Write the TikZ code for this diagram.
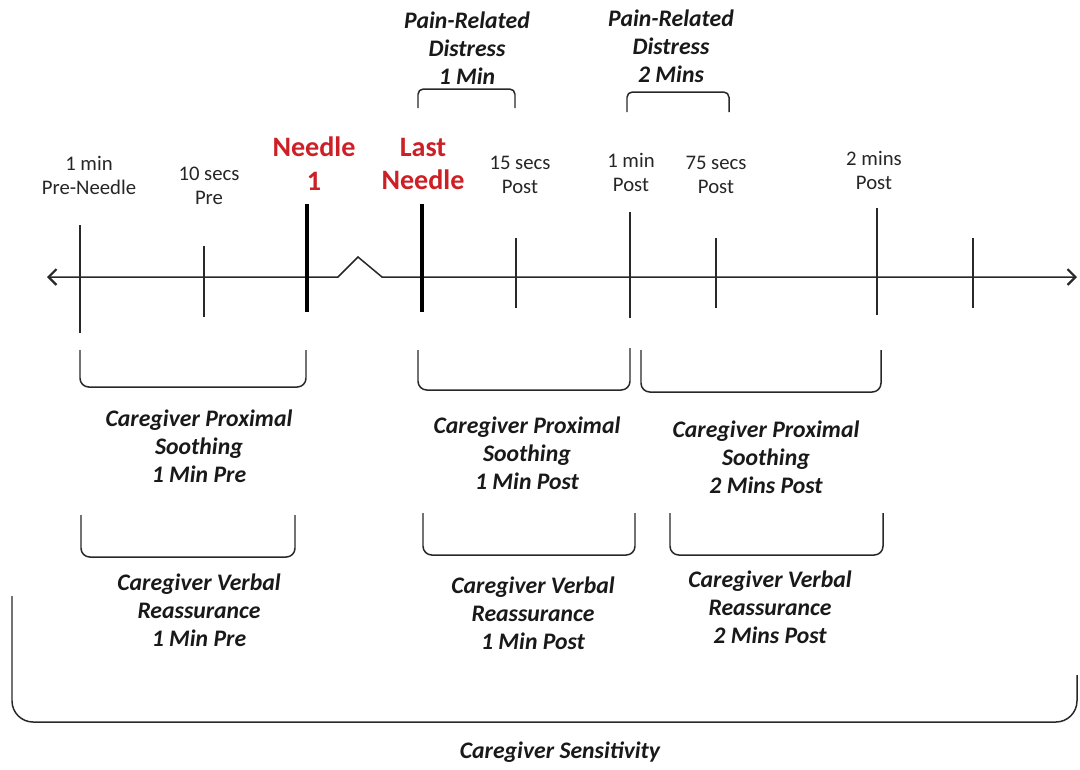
\documentclass[tikz,border=0pt]{standalone}
\usepackage{fontspec}
\setmainfont{Carlito}
\usetikzlibrary{arrows.meta}
\definecolor{needlered}{RGB}{205,32,38}
\definecolor{linegray}{RGB}{40,40,40}
\tikzset{
  timelbl/.style={align=center, text=black!85, font=\fontsize{11.8}{13.6}\selectfont},
  needlelbl/.style={align=center, text=needlered, font=\fontsize{16}{19.3}\selectfont\bfseries},
  measurelbl/.style={align=center, text=black!90, font=\fontsize{13.5}{15.9}\selectfont\bfseries\itshape},
  ticklin/.style={draw=linegray, line width=0.85pt},
  needletick/.style={draw=black, line width=1.8pt},
  bracket/.style={draw=linegray, line width=0.85pt, rounded corners=5pt},
  barb/.tip={Straight Barb[length=4.5pt,width=9pt,line width=1.3pt]},
}
\begin{document}
\begin{tikzpicture}[x=0.02cm, y=-0.02cm]
  \useasboundingbox (0,0) rectangle (1080,769);
  % time axis with break
  \draw[ticklin, barb-barb]
    (47,277) -- (338,277) -- (358,257) -- (382,277) -- (1077,277);
  \foreach \x/\ya/\yb in {80/225/333, 204/246/317, 516/238/308, 630/212/318,
                          716/238/308, 877/208/315, 973/238/308}
    \draw[ticklin] (\x,\ya) -- (\x,\yb);
  \draw[needletick] (307,204) -- (307,312);
  \draw[needletick] (422,204) -- (422,312);
  % time point labels
  \node[timelbl] (pre1) at (89,175) {1 min\\Pre-Needle};
  \node[timelbl] (pre10) at (209,186) {10 secs\\Pre};
  \node[needlelbl] (needle1) at (314,164) {Needle\\1};
  \node[needlelbl] (needlelast) at (423,164) {Last\\Needle};
  \node[timelbl] (post15) at (520,175) {15 secs\\Post};
  \node[timelbl] (post60) at (631,172) {1 min\\Post};
  \node[timelbl] (post75) at (716,175) {75 secs\\Post};
  \node[timelbl] (post120) at (874,170) {2 mins\\Post};
  % distress windows
  \draw[bracket, rounded corners=3pt] (418,108) -- (418,89) -- (515,89) -- (515,108);
  \draw[bracket, rounded corners=3pt] (627,112) -- (627,92) -- (729,92) -- (729,112);
  \node[measurelbl] (distress1) at (467,48) {Pain-Related\\Distress\\1 Min};
  \node[measurelbl] (distress2) at (671,46) {Pain-Related\\Distress\\2 Mins};
  % proximal soothing windows
  \draw[bracket] (80,350) -- (80,387) -- (306,387) -- (306,350);
  \draw[bracket] (418,350) -- (418,390) -- (630,390) -- (630,348);
  \draw[bracket] (641,350) -- (641,392) -- (881,392) -- (881,350);
  \node[measurelbl] (prox1) at (199,446) {Caregiver Proximal\\Soothing\\1 Min Pre};
  \node[measurelbl] (prox2) at (527,453) {Caregiver Proximal\\Soothing\\1 Min Post};
  \node[measurelbl] (prox3) at (766,457) {Caregiver Proximal\\Soothing\\2 Mins Post};
  % verbal reassurance windows
  \draw[bracket] (81,515) -- (81,557) -- (295,557) -- (295,515);
  \draw[bracket] (423,513) -- (423,555) -- (635,555) -- (635,513);
  \draw[bracket] (670,513) -- (670,555) -- (883,555) -- (883,513);
  \node[measurelbl] (verb1) at (199,610) {Caregiver Verbal\\Reassurance\\1 Min Pre};
  \node[measurelbl] (verb2) at (533,613) {Caregiver Verbal\\Reassurance\\1 Min Post};
  \node[measurelbl] (verb3) at (770,607) {Caregiver Verbal\\Reassurance\\2 Mins Post};
  % overall sensitivity
  \draw[bracket, rounded corners=12pt] (12,596) -- (12,722) -- (1077,722) -- (1077,675);
  \node[measurelbl] (sensitivity) at (560,752) {Caregiver Sensitivity};
\end{tikzpicture}
\end{document}
